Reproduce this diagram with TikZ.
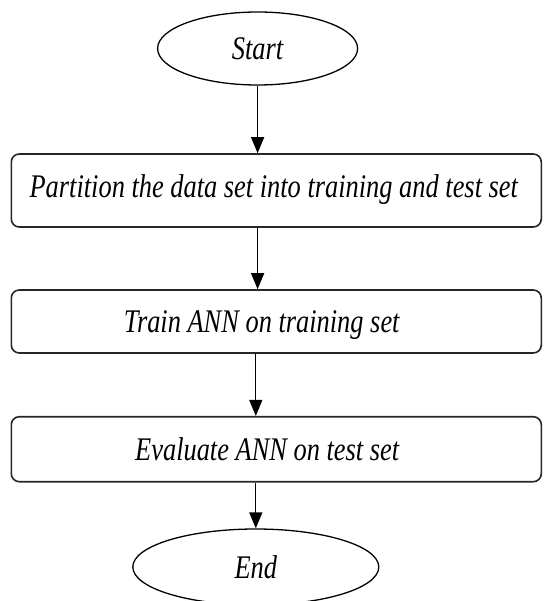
\documentclass[tikz,border=0pt]{standalone}
\usepackage{fontspec}
\newfontfamily\flowfont{Liberation Serif}[FakeStretch=0.8]
\usetikzlibrary{shapes.geometric,arrows.meta}
\tikzset{
  terminal/.style={draw=black, line width=1.3pt, ellipse, inner sep=0pt,
    font=\flowfont\itshape\fontsize{33}{36}\selectfont},
  stepbox/.style={draw=black!85, line width=1.6pt, rectangle, rounded corners=8pt,
    minimum width=530pt, inner sep=0pt},
  steplabel/.style={inner sep=0pt, anchor=base west,
    font=\flowfont\itshape\fontsize{33}{36}\selectfont},
  flow/.style={line width=1.3pt, -{Triangle[length=16pt,width=13pt]}}
}
\begin{document}
\begin{tikzpicture}[x=1pt,y=-1pt]
\useasboundingbox (0,0) rectangle (543,601);
% terminals
\node[terminal, minimum width=200pt, minimum height=73pt] (start) at (257.6,48.5) {Start};
\node[terminal, minimum width=246pt, minimum height=76pt] (end) at (255.8,567) {End};
% process steps
\node[stepbox, minimum height=73pt] (b1) at (276.3,190.5) {};
\node[stepbox, minimum height=63pt] (b2) at (276.3,321.5) {};
\node[stepbox, minimum height=65pt] (b3) at (276.3,449.2) {};
\node[steplabel] (t1) at (29.4,197.7) {Partition the data set into training and test set};
\node[steplabel] (t2) at (123.6,332.7) {Train ANN on training set};
\node[steplabel] (t3) at (135,460.7) {Evaluate ANN on test set};
% connectors
\draw[flow] (start.south) -- (start.south |- b1.north);
\draw[flow] (b1.south -| start) -- (b2.north -| start);
\draw[flow] (b2.south -| end) -- (b3.north -| end);
\draw[flow] (b3.south -| end) -- (end.north);
\end{tikzpicture}
\end{document}
